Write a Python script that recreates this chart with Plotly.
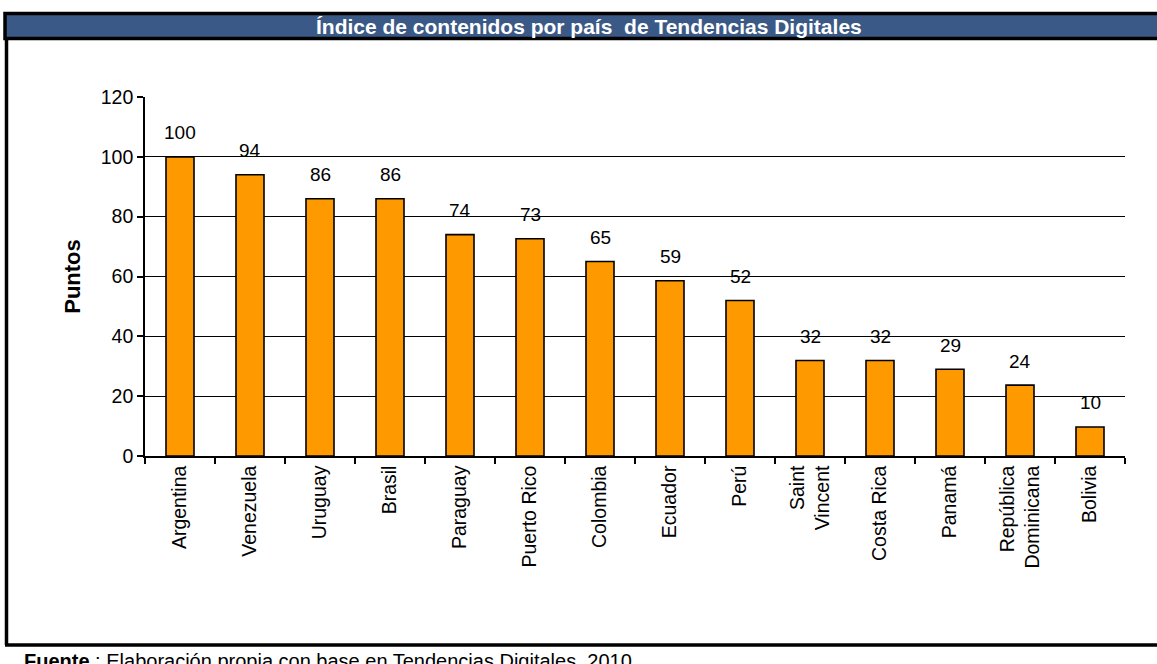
import plotly.graph_objects as go

countries = ["Argentina", "Venezuela", "Uruguay", "Brasil", "Paraguay", "Puerto Rico",
             "Colombia", "Ecuador", "Perú", "Saint<br>Vincent", "Costa Rica", "Panamá",
             "República<br>Dominicana", "Bolivia"]
values = [100, 94, 86, 86, 74, 72.6, 65, 58.6, 52, 31.9, 31.9, 29, 23.7, 9.7]
labels = ["100", "94", "86", "86", "74", "73", "65", "59", "52", "32", "32", "29", "24", "10"]
y_ticks = [0, 20, 40, 60, 80, 100, 120]

W, H = 1157, 664
L, R, T, B = 145, 32, 97, 208
pw, ph = W - L - R, H - T - B


def px(x):
    return (x - L) / pw


def py(y):
    return (H - B - y) / ph


FONT = "Liberation Sans, Arial, sans-serif"

fig = go.Figure(go.Bar(
    x=countries, y=values,
    marker=dict(color="#FF9900", line=dict(color="black", width=1.6)),
    cliponaxis=False, hoverinfo="skip",
))

annotations = [
    dict(x=c, y=v, text=t, xref="x", yref="y", showarrow=False, yshift=24,
         yanchor="middle", xanchor="center", font=dict(size=19, color="black"))
    for c, v, t in zip(countries, values, labels)
]
annotations += [
    dict(xref="paper", yref="paper", x=px(589), y=py(26), showarrow=False,
         text="<b>Índice de contenidos por país  de Tendencias Digitales</b>",
         font=dict(size=21, color="white"), xanchor="center", yanchor="middle"),
    dict(xref="paper", yref="paper", x=px(22), y=py(648), showarrow=False,
         text="<b>Fuente</b> : Elaboración propia con base en Tendencias Digitales, 2010.",
         font=dict(size=20, color="black"), xanchor="left", yanchor="top"),
]

fig.update_layout(
    width=W, height=H, margin=dict(l=L, r=R, t=T, b=B),
    paper_bgcolor="white", plot_bgcolor="white",
    bargap=0.6, showlegend=False,
    font=dict(family=FONT, size=19, color="black"),
    xaxis=dict(showline=True, linecolor="black", linewidth=1.6, ticks="outside",
               tickson="boundaries", ticklen=6, tickcolor="black", tickwidth=1.6,
               tickangle=-90, tickfont=dict(size=19.5), showgrid=False),
    yaxis=dict(range=[0, 120], tickvals=y_ticks, showline=True, linecolor="black",
               linewidth=1.6, ticks="outside", ticklen=6, tickcolor="black", tickwidth=1.6,
               showgrid=True, gridcolor="black", gridwidth=1.3, zeroline=False,
               tickfont=dict(size=19.5),
               title=dict(text="<b>Puntos</b>", font=dict(size=22), standoff=14)),
    shapes=[
        dict(type="rect", xref="paper", yref="paper", x0=px(5), x1=px(1162),
             y0=py(38.5), y1=py(13.5), fillcolor="#3B5986", line=dict(color="black", width=3.5)),
        dict(type="line", xref="paper", yref="paper", x0=px(6.5), x1=px(6.5),
             y0=py(38.5), y1=py(645), line=dict(color="black", width=3.5)),
        dict(type="line", xref="paper", yref="paper", x0=px(5), x1=px(1162),
             y0=py(645), y1=py(645), line=dict(color="black", width=3.5)),
    ],
    annotations=annotations,
)

fig.write_html("out.html", config={"displayModeBar": False},
               post_script="document.body.style.margin='0';")
